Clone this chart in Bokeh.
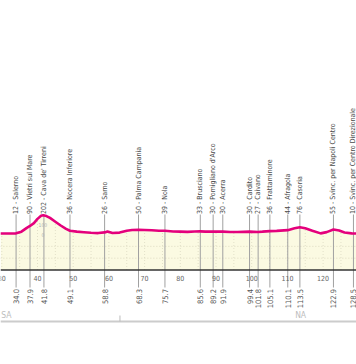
import numpy as np
from bokeh.plotting import figure
from bokeh.models import Range1d, ColumnDataSource
from bokeh.core.properties import value
from bokeh.embed import file_html
from bokeh.resources import INLINE

# ---- data ----
profile_km = [29.6, 31.0, 33.0, 34.0, 35.5, 37.0, 37.9, 39.0, 40.0, 41.0, 41.6, 42.5,
              43.5, 45.0, 46.5, 48.0, 49.1, 51.0, 53.0, 55.0, 57.0, 58.8, 59.6, 61.0,
              63.0, 65.0, 66.5, 68.3, 70.0, 72.0, 74.0, 75.7, 78.0, 80.0, 82.0, 84.0,
              85.6, 87.0, 89.2, 91.9, 94.0, 96.0, 99.4, 101.8, 103.0, 105.1, 107.0,
              110.1, 112.0, 113.5, 115.0, 117.0, 119.3, 121.0, 122.9, 124.5, 126.0,
              128.0, 129.4]
profile_alt = [10, 10, 11, 12, 30, 70, 90, 120, 165, 198, 203, 195,
               175, 135, 95, 60, 40, 30, 24, 18, 15, 22, 32, 16,
               20, 40, 48, 50, 48, 45, 40, 39, 32, 30, 28, 32,
               33, 30, 30, 30, 26, 26, 30, 27, 30, 36, 38,
               46, 65, 76, 65, 40, 12, 25, 52, 42, 22,
               12, 10]

place_names = ["Salerno", "Vietri sul Mare", "Cava de' Tirreni", "Nocera Inferiore",
               "Sarno", "Palma Campania", "Nola", "Brusciano", "Pomigliano d'Arco",
               "Acerra", "Cardito", "Caivano", "Frattaminore", "Afragola", "Casoria",
               "Svinc. per Napoli Centro", "Svinc. per Centro Direzionale"]
place_alt = [12, 90, 202, 36, 26, 50, 39, 33, 30, 30, 30, 27, 36, 44, 76, 55, 10]
place_km = [34.0, 37.9, 41.8, 49.1, 58.8, 68.3, 75.7, 85.6, 89.2, 91.9, 99.4,
            101.8, 105.1, 110.1, 113.5, 122.9, 128.5]

km_ticks = [30, 40, 50, 60, 70, 80, 90, 100, 110, 120]
grid_km = [30, 35, 40, 45, 50, 55, 60, 65, 70, 75, 80, 85, 90, 95, 100, 105,
           110, 115, 120, 125]

province_names = ["SA", "NA"]
province_label_km = [31.3, 113.7]
province_border_km = [63.1]

scale_labels = ["100", "0"]
scale_alt = [100, 0]
scale_km = [41.5, 41.5]

# ---- layout helpers (pixel rows -> altitude units) ----
W, H = 356, 364
Y0 = 234.0
PX_PER_M = 0.0947


def alt_at(py):
    return (Y0 - py) / PX_PER_M


BASE = alt_at(269.5)

FONT = value("DejaVu Sans Condensed")

p = figure(width=W, height=H, output_backend="svg", toolbar_location=None,
           x_range=Range1d(29.636, 129.356), y_range=Range1d(alt_at(H), alt_at(0)),
           min_border=0)
p.axis.visible = False
p.grid.visible = False
p.outline_line_color = None
p.background_fill_color = "white"

# profile fill
p.varea(x=profile_km, y1=[BASE] * len(profile_km), y2=profile_alt,
        fill_color="#fbfae2")

# grid inside the fill
gtop = list(np.interp(grid_km, profile_km, profile_alt))
p.segment(x0=grid_km, y0=[BASE] * len(grid_km), x1=grid_km, y1=gtop,
          line_color="#e2e0c8", line_width=1, line_dash="1 2")
for ga in [-125, -250]:
    p.segment(x0=[profile_km[0]], y0=[ga], x1=[profile_km[-1]], y1=[ga],
              line_color="#dcdac0", line_width=1, line_dash="1 2")

# location vertical lines
p.segment(x0=place_km, y0=[alt_at(214)] * len(place_km), x1=place_km,
          y1=[alt_at(287)] * len(place_km), line_color="#a0a0a0", line_width=1)

# altitude scale marks
p.text(x=scale_km, y=scale_alt, text=scale_labels, text_font=FONT,
       text_font_size="5px", text_color="#b0b0b0", text_align="center",
       text_baseline="middle")

# profile line
p.line(profile_km, profile_alt, line_color="#e4007c", line_width=2.6)

# axis baseline
p.segment(x0=[29.636], y0=[BASE], x1=[129.356], y1=[BASE],
          line_color="#333333", line_width=1.5)

# km ticks
p.text(x=km_ticks, y=[alt_at(277.5)] * len(km_ticks),
       text=[str(k) for k in km_ticks], text_font=FONT, text_font_size="7px",
       text_color="#666666", text_align="center", text_baseline="middle")

# location labels
src = ColumnDataSource(dict(
    x=place_km, y=[alt_at(213.5)] * len(place_km),
    t=[f"{a} - {n}" for a, n in zip(place_alt, place_names)]))
p.text(x="x", y="y", text="t", source=src, angle=np.pi / 2, text_font=FONT,
       text_font_size="7px", text_color="#4a4a4a", text_align="left",
       text_baseline="middle")

# km labels
p.text(x=place_km, y=[alt_at(288.5)] * len(place_km),
       text=[f"{k:.1f}" for k in place_km], angle=np.pi / 2, text_font=FONT,
       text_font_size="7.5px", text_color="#555555", text_align="right",
       text_baseline="middle")

# province bar
p.segment(x0=[29.636], y0=[alt_at(321)], x1=[129.356], y1=[alt_at(321)],
          line_color="#cccccc", line_width=2)
p.segment(x0=province_border_km, y0=[alt_at(315)], x1=province_border_km,
          y1=[alt_at(321)], line_color="#bbbbbb", line_width=1)
p.text(x=province_label_km, y=[alt_at(314.5)] * 2, text=province_names,
       text_font=FONT, text_font_size="8.5px", text_color="#bdbdbd",
       text_align="center", text_baseline="middle")

open("out.html", "w").write(file_html(p, INLINE))
